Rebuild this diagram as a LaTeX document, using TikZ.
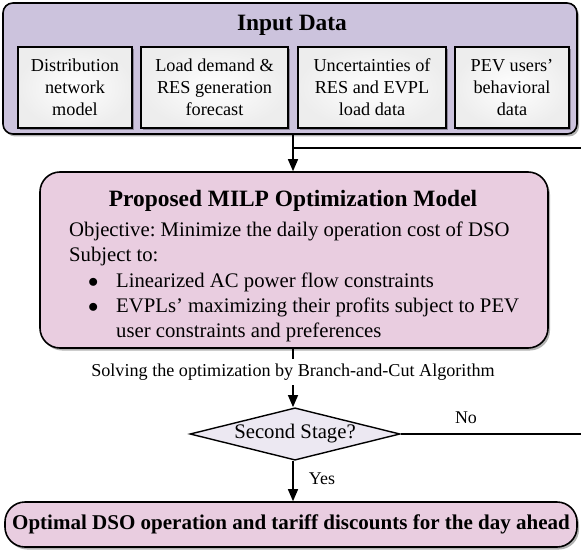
\documentclass[tikz,border=0pt]{standalone}
\usepackage{fontspec}
\setmainfont{Liberation Serif}
\usetikzlibrary{shapes.geometric,arrows.meta,shadows}
\definecolor{inputc}{RGB}{204,195,221}
\definecolor{milpc}{RGB}{233,205,224}
\definecolor{diac}{RGB}{236,232,242}
\frenchspacing
\tikzset{
  shad/.style={drop shadow={shadow xshift=2bp,shadow yshift=-2.5bp,fill=black,opacity=0.3}},
  bigbox/.style={draw=black,line width=1.6bp,rounded corners=10bp,shad,inner sep=0pt},
  databox/.style={draw=black,line width=1.4bp,inner color=white,outer color=gray!14,shad,
    align=center,font=\fontsize{18.3}{22}\selectfont,inner sep=0pt,minimum height=81bp},
  conn/.style={line width=1.3bp},
  arr/.style={conn,-{Triangle[width=10bp,length=12bp]}},
  bodytxt/.style={font=\fontsize{20.8}{25}\selectfont,inner sep=0pt,anchor=base west},
}
\begin{document}
\begin{tikzpicture}[x=1bp,y=-1bp]
\useasboundingbox (0,0) rectangle (581,550);
% Input data
\node[bigbox,fill=inputc,minimum width=574bp,minimum height=131bp] (input) at (290,68.5) {};
\node[font=\bfseries\fontsize{23.5}{28}\selectfont,inner sep=0pt] (inputtitle) at (292,25) {Input Data};
\node[databox,minimum width=114bp] (d1) at (75,87.5) {Distribution\\network\\model};
\node[databox,minimum width=147bp] (d2) at (214.5,87.5) {Load demand \&\\RES generation\\forecast};
\node[databox,minimum width=148bp] (d3) at (372,87.5) {Uncertainties of\\RES and EVPL\\load data};
\node[databox,minimum width=114bp] (d4) at (512,87.5) {PEV users'\\behavioral\\data};
% MILP
\node[bigbox,fill=milpc,rounded corners=20bp,minimum width=508bp,minimum height=176bp] (milp) at (294,260) {};
\node[font=\bfseries\fontsize{23.5}{28}\selectfont,inner sep=0pt,anchor=base] (mtitle) at (293,207) {Proposed MILP Optimization Model};
\node[bodytxt] (obj) at (69,236) {Objective: Minimize the daily operation cost of DSO};
\node[bodytxt] (subj) at (69,261.5) {Subject to:};
\node[bodytxt] (b1) at (88,287) {$\bullet$};
\node[bodytxt] (l1) at (116,287) {Linearized AC power flow constraints};
\node[bodytxt] (b2) at (88,312.5) {$\bullet$};
\node[bodytxt] (l2) at (116,312.5) {EVPLs' maximizing their profits subject to PEV};
\node[bodytxt] (l3) at (116,337.5) {user constraints and preferences};
% solving label
\node[font=\fontsize{18.2}{21}\selectfont,inner sep=0pt,minimum height=26bp] (solve) at (293,372) {Solving the optimization by Branch-and-Cut Algorithm};
% diamond
\node[diamond,draw=black,line width=1.4bp,fill=diac,minimum width=210bp,aspect=3.62,inner sep=0pt,
  font=\fontsize{20.8}{24}\selectfont] (dia) at (295,434) {Second Stage?};
% final
\node[bigbox,fill=milpc,rounded corners=20bp,minimum width=572bp,minimum height=45bp,
  font=\bfseries\fontsize{21.1}{25}\selectfont] (final) at (291,524.5) {Optimal DSO operation and tariff discounts for the day ahead};
% connectors
\coordinate (fbR) at (581,148);
\coordinate (noR) at (581,434);
\draw[arr] (input.south -| mtitle.south) -- (milp.north -| mtitle.south);
\draw[conn] (fbR) -- (fbR -| mtitle.south);
\draw[conn] (milp.south -| solve.north) -- (solve.north);
\draw[arr] (solve.south) -- (dia.north -| solve.south);
\draw[conn] (dia.east) -- (noR);
\draw[arr] (dia.south -| solve.south) -- (final.north -| solve.south);
\node[font=\fontsize{18}{22}\selectfont,inner sep=0pt] (no) at (466,418) {No};
\node[font=\fontsize{18}{22}\selectfont,inner sep=0pt] (yes) at (322,479) {Yes};
\end{tikzpicture}
\end{document}
